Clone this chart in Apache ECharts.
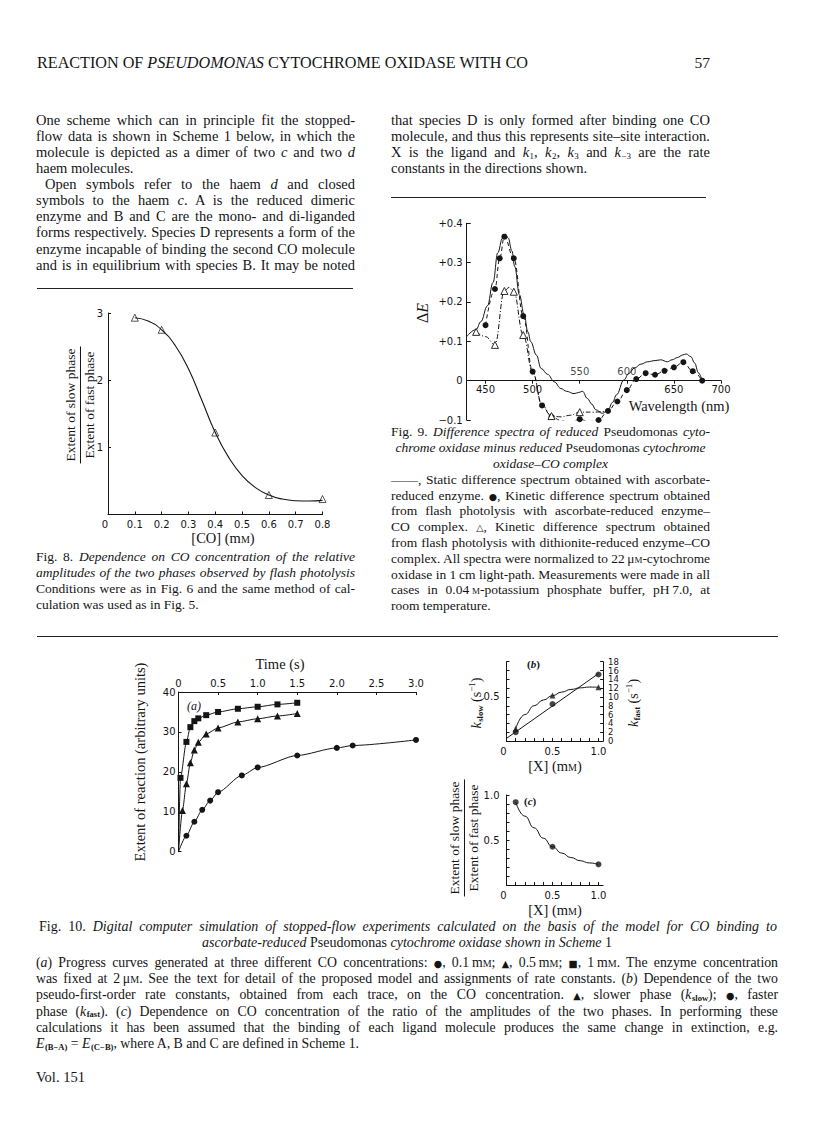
<!DOCTYPE html>
<html><head><meta charset="utf-8">
<script src="https://cdn.jsdelivr.net/npm/echarts@6.0.0/dist/echarts.min.js"></script>
<style>
html,body{margin:0;padding:0;background:#fff;}
#page{position:relative;width:816px;height:1136px;overflow:hidden;background:#fff;}
#chart{position:absolute;left:0;top:0;width:816px;height:1136px;}
.t{position:absolute;white-space:nowrap;line-height:1;font-family:'Liberation Serif','Times New Roman',serif;color:#151515;transform-origin:left center;}
.r{position:absolute;white-space:nowrap;line-height:1.15;font-family:'Liberation Serif','Times New Roman',serif;color:#151515;text-align:center;}
.rule{position:absolute;height:1.4px;background:#222;}
.sc{font-variant:small-caps;}
.sym{font-family:'DejaVu Sans',sans-serif;font-size:0.7em;}
sub{font-size:0.62em;line-height:0;vertical-align:-0.2em;margin-left:0.5px;}
sup{font-size:0.65em;line-height:0;}
</style></head><body><div id="page"><div id="chart"></div></div>
<script>
// ---------------- DATA ----------------
// Fig. 8
const fig8X = [0.1, 0.2, 0.4, 0.6, 0.8];
const fig8Y = [2.93, 2.75, 1.22, 0.29, 0.23];
const fig8CurveX = [0.1, 0.15, 0.2, 0.25, 0.3, 0.35, 0.4, 0.45, 0.5, 0.55, 0.6, 0.65, 0.7, 0.75, 0.8];
const fig8CurveY = [2.93, 2.88, 2.75, 2.52, 2.17, 1.70, 1.22, 0.85, 0.58, 0.40, 0.29, 0.23, 0.205, 0.20, 0.21];
const fig8XTicks = [0, 0.1, 0.2, 0.3, 0.4, 0.5, 0.6, 0.7, 0.8];

// Fig. 9
const fig9YMin = -0.1, fig9YMax = 0.4;
const solidX = [430, 440, 445, 452, 458, 463, 468, 471, 474, 478, 481, 486, 491, 495, 498, 504, 509, 516, 523, 530, 536, 544, 549, 553, 558, 563, 567, 574, 580, 585, 589, 597, 602, 608, 615, 622, 630, 636, 643, 648, 654, 659, 663, 668, 672, 676, 680];
const solidY = [0.112, 0.13, 0.15, 0.19, 0.25, 0.325, 0.362, 0.372, 0.363, 0.33, 0.29, 0.218, 0.167, 0.124, 0.099, 0.065, 0.031, 0.016, -0.003, -0.02, -0.027, -0.033, -0.03, -0.027, -0.045, -0.06, -0.074, -0.083, -0.074, -0.055, -0.036, 0.002, 0.018, 0.032, 0.042, 0.048, 0.051, 0.053, 0.048, 0.053, 0.059, 0.065, 0.068, 0.061, 0.045, 0.02, 0.0];
const dotX = [450, 460, 465, 470, 480, 490, 500, 510, 520, 530, 540, 550, 560, 570, 580, 590, 600, 610, 620, 630, 640, 650, 660, 670, 680];
const dotY = [0.141, 0.233, 0.311, 0.366, 0.311, 0.164, 0.023, -0.063, -0.092, -0.101, -0.108, -0.098, -0.104, -0.1, -0.077, -0.053, -0.024, 0.004, 0.019, 0.015, 0.025, 0.034, 0.047, 0.024, 0.0];
const triX = [440, 450, 460, 470, 475, 480, 490, 500, 510, 520, 530, 540, 550, 565, 580];
const triY = [0.124, 0.112, 0.091, 0.228, 0.237, 0.226, 0.116, 0.022, -0.062, -0.09, -0.092, -0.088, -0.08, -0.08, -0.077];
const triMarked = [440, 460, 470, 480, 490, 520, 550];
const fig9TickValues = [450, 500, 550, 600, 650, 700];
const fig9LowerLabels = [450, 500, 650, 700];
const fig9UpperLabels = [550, 600];

// Fig. 10 (a)
const timeSq = [0.025, 0.1, 0.15, 0.2, 0.25, 0.35, 0.5, 0.75, 1.0, 1.25, 1.5];
const extSq = [18.5, 27.5, 31.2, 32.7, 33.4, 34.2, 35.0, 35.8, 36.3, 36.9, 37.3];
const timeTri = [0.05, 0.1, 0.15, 0.2, 0.25, 0.35, 0.5, 0.75, 1.0, 1.25, 1.5];
const extTri = [10.3, 17.0, 22.3, 25.5, 27.4, 29.5, 31.0, 32.5, 33.3, 34.0, 34.6];
const timeCirc = [0.1, 0.2, 0.3, 0.4, 0.5, 0.8, 1.0, 1.5, 2.0, 2.2, 3.0];
const extCirc = [4.0, 7.5, 10.5, 12.8, 14.9, 19.1, 21.1, 24.1, 26.0, 26.6, 28.0];

// Fig. 10 (b)
const concB = [0.1, 0.5, 1.0];
const kSlow = [0.14, 0.515, 0.61];
const kFast = [2.0, 8.4, 15.1];
const slowCurveX = [0.1, 0.2, 0.3, 0.4, 0.5, 0.6, 0.7, 0.8, 0.9, 1.0];
const slowCurveY = [0.14, 0.30, 0.40, 0.465, 0.515, 0.555, 0.585, 0.603, 0.612, 0.61];
const fastFitX = [0, 1.0];
const fastFitY = [0.6, 15.3];
const xTicksBC = [0, 0.1, 0.2, 0.3, 0.4, 0.5, 0.6, 0.7, 0.8, 0.9, 1.0];
const xLabelsBC = [0, 0.5, 1.0];
const slowLabels = [0.5];

// Fig. 10 (c)
const concC = [0.1, 0.5, 1.0];
const ratioC = [0.92, 0.425, 0.23];
const ratioCurveX = [0.1, 0.2, 0.3, 0.4, 0.5, 0.6, 0.7, 0.8, 0.9, 1.0];
const ratioCurveY = [0.92, 0.765, 0.635, 0.52, 0.425, 0.355, 0.305, 0.27, 0.245, 0.23];
const ratioLabels = [0.5, 1.0];

// ---------------- CHART ----------------
const black = '#151515';
const zip = (xs, ys) => xs.map((x, i) => [x, ys[i]]);
const lblFont = {color: black, fontFamily: 'DejaVu Sans', fontSize: 10};
const line = {lineStyle: {color: black, width: 1}};
const tickIn = {show: true, inside: true, length: 3, lineStyle: {color: black, width: 1}};
const dec = v => (v === 0 ? '0' : v.toFixed(1));

const grids = [
  {left: 108, top: 313, width: 214.5, height: 201.5},
  {left: 466.7, top: 223.3, width: 254.3, height: 196.7},
  {left: 178.5, top: 692, width: 237.5, height: 159.7},
  {left: 506.5, top: 661.7, width: 96.6, height: 79.3},
  {left: 506.5, top: 795, width: 96.6, height: 90}
];
// x axis of Fig. 9 sits on the zero line: shift it up from the grid bottom by the scale of zero
const fig9ZeroOffset = -grids[1].height * (0 - fig9YMin) / (fig9YMax - fig9YMin);

const chart = echarts.init(document.getElementById('chart'), null, {renderer: 'svg', width: 816, height: 1136});

const option = {
  animation: false,
  backgroundColor: 'transparent',
  grid: grids,
  xAxis: [
    {gridIndex: 0, type: 'value', min: 0, max: 0.8, interval: 0.1, axisLine: line, axisTick: tickIn, splitLine: {show: false},
     axisLabel: Object.assign({margin: 5, formatter: dec, alignMinLabel: 'right', customValues: fig8XTicks}, lblFont)},
    {gridIndex: 1, type: 'value', min: 430, max: 700, position: 'bottom', offset: fig9ZeroOffset,
     axisLine: Object.assign({onZero: false}, line),
     axisTick: {show: true, length: 3, customValues: fig9TickValues, lineStyle: {color: black}}, splitLine: {show: false},
     axisLabel: Object.assign({margin: 4, customValues: fig9LowerLabels}, lblFont)},
    {gridIndex: 2, type: 'value', position: 'top', min: 0, max: 3, interval: 0.5, axisLine: Object.assign({onZero: false}, line),
     axisTick: tickIn, splitLine: {show: false}, axisLabel: Object.assign({margin: 4, formatter: dec}, lblFont)},
    {gridIndex: 3, type: 'value', min: 0, max: 1.05, axisLine: line,
     axisTick: Object.assign({customValues: xTicksBC}, tickIn), splitLine: {show: false},
     axisLabel: Object.assign({margin: 5, formatter: dec, customValues: xLabelsBC, alignMinLabel: 'right'}, lblFont)},
    {gridIndex: 4, type: 'value', min: 0, max: 1.05, axisLine: line,
     axisTick: Object.assign({customValues: xTicksBC}, tickIn), splitLine: {show: false},
     axisLabel: Object.assign({margin: 5, formatter: dec, customValues: xLabelsBC, alignMinLabel: 'right'}, lblFont)}
  ],
  yAxis: [
    {gridIndex: 0, type: 'value', min: 0, max: 3, interval: 1, axisLine: line, axisTick: tickIn, splitLine: {show: false},
     axisLabel: Object.assign({margin: 5, showMinLabel: false}, lblFont)},
    {gridIndex: 1, type: 'value', min: fig9YMin, max: fig9YMax, interval: 0.1, axisLine: line, axisTick: Object.assign({}, tickIn, {length: 4}), splitLine: {show: false},
     axisLabel: Object.assign({margin: 4, formatter: v => (Math.abs(v) < 1e-9 ? '0' : (v > 0 ? '+' : '\u2212') + Math.abs(v).toFixed(1))}, lblFont)},
    {gridIndex: 2, type: 'value', min: 0, max: 40, interval: 10, axisLine: line, axisTick: tickIn, splitLine: {show: false},
     axisLabel: Object.assign({margin: 3}, lblFont)},
    {gridIndex: 3, type: 'value', min: 0, max: 0.9, interval: 0.1, axisLine: line, axisTick: tickIn, splitLine: {show: false},
     axisLabel: Object.assign({margin: 7, customValues: slowLabels, formatter: v => v.toFixed(1)}, lblFont)},
    {gridIndex: 3, type: 'value', position: 'right', min: 0, max: 18, interval: 2, axisLine: Object.assign({onZero: false}, line),
     axisTick: tickIn, splitLine: {show: false}, axisLabel: Object.assign({}, lblFont, {margin: 5, fontSize: 8.5})},
    {gridIndex: 4, type: 'value', min: 0, max: 1.0, interval: 0.1, axisLine: line, axisTick: tickIn, splitLine: {show: false},
     axisLabel: Object.assign({margin: 7, customValues: ratioLabels, formatter: v => v.toFixed(1)}, lblFont)}
  ],
  series: [
    // Fig 8
    {type: 'line', xAxisIndex: 0, yAxisIndex: 0, data: zip(fig8CurveX, fig8CurveY), smooth: 0.5, symbol: 'none',
     lineStyle: {color: black, width: 1.1}},
    {type: 'scatter', xAxisIndex: 0, yAxisIndex: 0, data: zip(fig8X, fig8Y), symbol: 'triangle', symbolSize: 7,
     itemStyle: {color: '#fff', borderColor: black, borderWidth: 0.9}},
    // Fig 9
    {type: 'line', xAxisIndex: 1, yAxisIndex: 1, data: zip(solidX, solidY), smooth: 0.4, smoothMonotone: 'x', symbol: 'none',
     lineStyle: {color: black, width: 1}},
    {type: 'line', xAxisIndex: 1, yAxisIndex: 1, data: zip(dotX, dotY), smooth: 0.4, smoothMonotone: 'x', symbol: 'circle', symbolSize: 6,
     showAllSymbol: true, itemStyle: {color: black}, lineStyle: {color: black, width: 1, type: [4, 3]}},
    {type: 'line', xAxisIndex: 1, yAxisIndex: 1, smooth: 0.4, smoothMonotone: 'x', symbolSize: 7, showAllSymbol: true,
     data: triX.map((x, i) => ({value: [x, triY[i]], symbol: triMarked.includes(x) ? 'triangle' : 'none'})),
     itemStyle: {color: '#fff', borderColor: black, borderWidth: 0.9}, lineStyle: {color: black, width: 1, type: [5, 2, 1, 2]}},
    {type: 'scatter', xAxisIndex: 1, yAxisIndex: 1, data: fig9UpperLabels.map(v => [v, 0]), symbolSize: 0.1, silent: true,
     itemStyle: {color: 'rgba(0,0,0,0)'},
     label: Object.assign({show: true, position: 'top', distance: 4, formatter: p => String(p.value[0])}, lblFont)},
    // Fig 10a
    {type: 'line', xAxisIndex: 2, yAxisIndex: 2, smooth: 0.25, smoothMonotone: 'x', symbol: 'rect', symbolSize: 6, showAllSymbol: true,
     data: [{value: [0, 0], symbol: 'none'}].concat(zip(timeSq, extSq)), itemStyle: {color: black}, lineStyle: {color: black, width: 1}},
    {type: 'line', xAxisIndex: 2, yAxisIndex: 2, smooth: 0.25, smoothMonotone: 'x', symbol: 'triangle', symbolSize: 7, showAllSymbol: true,
     data: [{value: [0, 0], symbol: 'none'}].concat(zip(timeTri, extTri)), itemStyle: {color: black}, lineStyle: {color: black, width: 1}},
    {type: 'line', xAxisIndex: 2, yAxisIndex: 2, smooth: 0.25, smoothMonotone: 'x', symbol: 'circle', symbolSize: 6, showAllSymbol: true,
     data: [{value: [0, 0], symbol: 'none'}].concat(zip(timeCirc, extCirc)), itemStyle: {color: black}, lineStyle: {color: black, width: 1}},
    // Fig 10b
    {type: 'line', xAxisIndex: 3, yAxisIndex: 3, data: zip(slowCurveX, slowCurveY), smooth: 0.5, smoothMonotone: 'x', symbol: 'none',
     lineStyle: {color: black, width: 1}},
    {type: 'scatter', xAxisIndex: 3, yAxisIndex: 3, data: zip(concB, kSlow), symbol: 'triangle', symbolSize: 6, itemStyle: {color: black}},
    {type: 'line', xAxisIndex: 3, yAxisIndex: 4, data: zip(fastFitX, fastFitY), symbol: 'none', lineStyle: {color: black, width: 1}},
    {type: 'scatter', xAxisIndex: 3, yAxisIndex: 4, data: zip(concB, kFast), symbol: 'circle', symbolSize: 6, itemStyle: {color: black}},
    // Fig 10c
    {type: 'line', xAxisIndex: 4, yAxisIndex: 5, data: zip(ratioCurveX, ratioCurveY), smooth: 0.5, smoothMonotone: 'x', symbol: 'none',
     lineStyle: {color: black, width: 1}},
    {type: 'scatter', xAxisIndex: 4, yAxisIndex: 5, data: zip(concC, ratioC), symbol: 'circle', symbolSize: 6, itemStyle: {color: black}}
  ]
};
chart.setOption(option);

// ---------------- TEXT ----------------
const page = document.getElementById('page');
function txt(x, yc, w, html, o) {
  o = o || {};
  const size = o.size || 14.5;
  const d = document.createElement('div');
  d.className = 't';
  d.style.fontSize = size + 'px';
  if (o.italic) d.style.fontStyle = 'italic';
  if (o.bold) d.style.fontWeight = 'bold';
  d.innerHTML = html;
  page.appendChild(d);
  const nat = d.getBoundingClientRect().width;
  let left = x;
  const align = o.align || 'left';
  if (nat > w) {
    d.style.transform = 'scaleX(' + (w / nat) + ')';
  } else if (align === 'justify') {
    const n = (d.textContent.match(/ /g) || []).length;
    if (n) d.style.wordSpacing = ((w - nat) / n) + 'px';
  } else if (align === 'center') {
    left = x + (w - nat) / 2;
  } else if (align === 'right') {
    left = x + w - nat;
  }
  d.style.left = left + 'px';
  d.style.top = (yc - size * 0.57) + 'px';
}
function rot(cx, cy, html, size) {
  const d = document.createElement('div');
  d.className = 'r';
  d.style.fontSize = size + 'px';
  d.innerHTML = html;
  d.style.left = cx + 'px';
  d.style.top = cy + 'px';
  d.style.transform = 'translate(-50%,-50%) rotate(-90deg)';
  page.appendChild(d);
}
function rule(x, y, w) {
  const d = document.createElement('div');
  d.className = 'rule';
  d.style.left = x + 'px'; d.style.top = y + 'px'; d.style.width = w + 'px';
  page.appendChild(d);
}
const J = {align: 'justify'};
const mm = 'm<span class="sc">m</span>';

// Running head
txt(37, 63.5, 491, 'REACTION OF <i>PSEUDOMONAS</i> CYTOCHROME OXIDASE WITH CO', {size: 17, align: 'justify'});
txt(680, 63.5, 30, '57', {size: 15.5, align: 'right'});

// Left column body
const leftLines = [
  ['One scheme which can in principle fit the stopped-', 'j'],
  ['flow data is shown in Scheme 1 below, in which the', 'j'],
  ['molecule is depicted as a dimer of two <i>c</i> and two <i>d</i>', 'j'],
  ['haem molecules.', 'l'],
  ['Open symbols refer to the haem <i>d</i> and closed', 'i'],
  ['symbols to the haem <i>c</i>. A is the reduced dimeric', 'j'],
  ['enzyme and B and C are the mono- and di-liganded', 'j'],
  ['forms respectively. Species D represents a form of the', 'j'],
  ['enzyme incapable of binding the second CO molecule', 'j'],
  ['and is in equilibrium with species B. It may be noted', 'j']
];
leftLines.forEach((l, i) => {
  const yc = 121 + i * 16.1;
  if (l[1] === 'i') txt(45, yc, 310, l[0], J);
  else txt(36, yc, 319, l[0], {align: l[1] === 'j' ? 'justify' : 'left'});
});
const rightLines = [
  ['that species D is only formed after binding one CO', 'j'],
  ['molecule, and thus this represents site\u2013site interaction.', 'j'],
  ['X is the ligand and <i>k</i><sub>1</sub>, <i>k</i><sub>2</sub>, <i>k</i><sub>3</sub> and <i>k</i><sub>\u22123</sub> are the rate', 'j'],
  ['constants in the directions shown.', 'l']
];
rightLines.forEach((l, i) => txt(391, 121 + i * 16.1, 319, l[0], {align: l[1] === 'j' ? 'justify' : 'left'}));

rule(37, 288, 316);
rule(391, 196.5, 315);
rule(37, 635.5, 741);

// Fig 8 texts
rot(80, 405, '<div style="border-bottom:1px solid #151515;padding:0 2px 1px">Extent of slow phase</div><div style="padding-top:1px">Extent of fast phase</div>', 13.5);
txt(123, 539, 200, '[CO] (' + mm + ')', {size: 14.5, align: 'center'});
txt(36, 558, 319, 'Fig. 8. <i>Dependence on CO concentration of the relative</i>', {size: 13.5, align: 'justify'});
txt(36, 573.8, 319, '<i>amplitudes of the two phases observed by flash photolysis</i>', {size: 13.5, align: 'justify'});
txt(36, 589.6, 319, 'Conditions were as in Fig. 6 and the same method of cal-', {size: 13.5, align: 'justify'});
txt(36, 605.4, 319, 'culation was used as in Fig. 5.', {size: 13.5});

// Fig 9 texts
rot(423, 313, '\u0394<i>E</i>', 16);
txt(579, 407, 200, 'Wavelength (nm)', {size: 14.5, align: 'center'});
const f9 = [
  ['Fig. 9. <i>Difference spectra of reduced</i> Pseudomonas <i>cyto-</i>', 'j'],
  ['<i>chrome oxidase minus reduced</i> Pseudomonas <i>cytochrome</i>', 'c'],
  ['<i>oxidase\u2013CO complex</i>', 'c'],
  ['\u2014\u2014, Static difference spectrum obtained with ascorbate-', 'j'],
  ['reduced enzyme. <span class="sym">\u25CF</span>, Kinetic difference spectrum obtained', 'j'],
  ['from flash photolysis with ascorbate-reduced enzyme\u2013', 'j'],
  ['CO complex. <span class="sym">\u25B3</span>, Kinetic difference spectrum obtained', 'j'],
  ['from flash photolysis with dithionite-reduced enzyme\u2013CO', 'j'],
  ['complex. All spectra were normalized to 22\u2009\u03BC<span class="sc">m</span>-cytochrome', 'j'],
  ['oxidase in 1\u2009cm light-path. Measurements were made in all', 'j'],
  ['cases in 0.04\u2009<span class="sc">m</span>-potassium phosphate buffer, pH\u20097.0, at', 'j'],
  ['room temperature.', 'l']
];
f9.forEach((l, i) => txt(391, 433 + i * 15.8, 319, l[0], {size: 13.5, align: l[1] === 'j' ? 'justify' : (l[1] === 'c' ? 'center' : 'left')}));

// Fig 10 texts
txt(180, 665, 200, 'Time (s)', {size: 14.5, align: 'center'});
rot(140, 762, 'Extent of reaction (arbitrary units)', 14.5);
txt(187, 706.5, 30, '(<i>a</i>)', {size: 12, italic: true});
txt(527, 665, 30, '(<i>b</i>)', {size: 11, bold: true});
rot(477, 703, '<i>k</i><sub style="font-weight:bold">slow</sub> (s<sup>\u22121</sup>)', 14);
rot(634, 703, '<i>k</i><sub style="font-weight:bold">fast</sub> (s<sup>\u22121</sup>)', 14);
txt(455, 767, 200, '[X] (' + mm + ')', {size: 14.5, align: 'center'});
txt(524, 802, 30, '(<i>c</i>)', {size: 11, bold: true});
rot(464, 838, '<div style="border-bottom:1px solid #151515;padding:0 2px 1px">Extent of slow phase</div><div style="padding-top:1px">Extent of fast phase</div>', 13.5);
txt(455, 911, 200, '[X] (' + mm + ')', {size: 14.5, align: 'center'});

txt(39, 928, 738, 'Fig. 10. <i>Digital computer simulation of stopped-flow experiments calculated on the basis of the model for CO binding to</i>', {size: 14, align: 'justify'});
txt(36, 944, 742, '<i>ascorbate-reduced</i> Pseudomonas <i>cytochrome oxidase shown in Scheme</i> 1', {size: 14, align: 'center'});
const f10 = [
  ['(<i>a</i>) Progress curves generated at three different CO concentrations: <span class="sym">\u25CF</span>, 0.1\u2009' + mm + '; <span class="sym">\u25B2</span>, 0.5\u2009' + mm + '; <span class="sym">\u25A0</span>, 1\u2009' + mm + '. The enzyme concentration', 'j'],
  ['was fixed at 2\u2009\u03BC<span class="sc">m</span>. See the text for detail of the proposed model and assignments of rate constants. (<i>b</i>) Dependence of the two', 'j'],
  ['pseudo-first-order rate constants, obtained from each trace, on the CO concentration. <span class="sym">\u25B2</span>, slower phase (<i>k</i><sub><b>slow</b></sub>); <span class="sym">\u25CF</span>, faster', 'j'],
  ['phase (<i>k</i><sub><b>fast</b></sub>). (<i>c</i>) Dependence on CO concentration of the ratio of the amplitudes of the two phases. In performing these', 'j'],
  ['calculations it has been assumed that the binding of each ligand molecule produces the same change in extinction, e.g.', 'j'],
  ['<i>E</i><sub><b>(B\u2212A)</b></sub> = <i>E</i><sub><b>(C\u2212B)</b></sub>, where A, B and C are defined in Scheme 1.', 'l']
];
f10.forEach((l, i) => txt(36, 963.5 + i * 16.3, 742, l[0], {size: 13.8, align: l[1] === 'j' ? 'justify' : 'left'}));
txt(36, 1078, 100, 'Vol. 151', {size: 14.5});
</script></body></html>
